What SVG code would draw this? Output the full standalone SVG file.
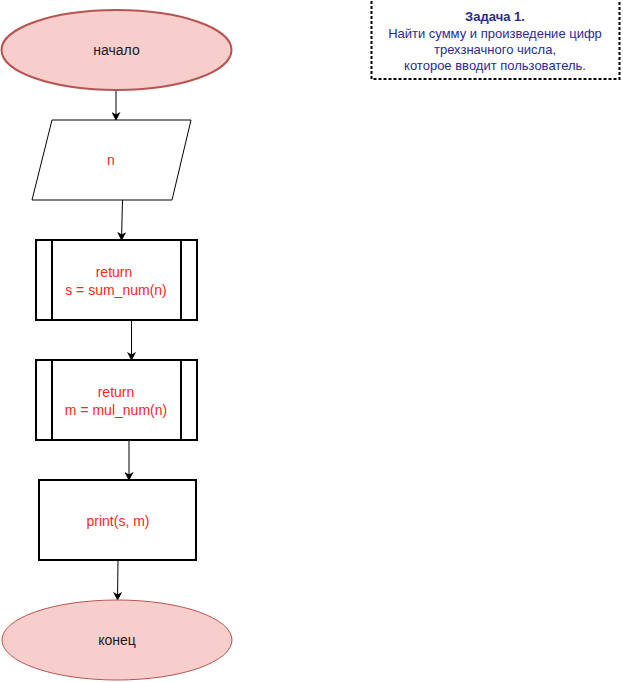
<svg xmlns="http://www.w3.org/2000/svg" width="623" height="682" viewBox="0 0 623 682">
  <style>
    text { font-family: "Liberation Sans", Arial, sans-serif; font-size: 14px; text-anchor: middle; dominant-baseline: central; }
    .term { fill: #f8cecc; stroke: #b85450; }
    .box { fill: #ffffff; stroke: #000000; stroke-width: 2; }
    .shape { fill: #ffffff; stroke: #000000; stroke-width: 1; }
    .dark { fill: #1a1a1a; }
    .red { fill: #ff2424; }
    .note { fill: #2b2b8f; font-size: 13px; }
    .edge { fill: none; stroke: #000000; stroke-width: 1; marker-end: url(#arrow); }
  </style>
  <defs>
    <marker id="arrow" viewBox="0 0 10 10" refX="9" refY="5" markerWidth="9" markerHeight="9" markerUnits="userSpaceOnUse" orient="auto">
      <path d="M0,0 L10,5 L0,10 L3,5 Z" fill="#000000"/>
    </marker>
  </defs>
  <rect width="623" height="682" fill="#ffffff"/>

  <g id="connectors">
    <path class="edge" d="M116,90 L116,120"/>
    <path class="edge" d="M122.5,200 L121.5,240"/>
    <path class="edge" d="M131.5,321 L131.5,360"/>
    <path class="edge" d="M129,441 L129,480"/>
    <path class="edge" d="M118,560 L117.5,600"/>
  </g>

  <g id="start">
    <ellipse class="term" cx="116.5" cy="50" rx="115" ry="40" stroke-width="2"/>
    <text class="dark" x="116.5" y="50">начало</text>
  </g>

  <g id="input">
    <polygon class="shape" points="52,120 191,120 172,200 32,200"/>
    <text class="red" x="111" y="160">n</text>
  </g>

  <g id="sum">
    <rect class="box" x="36" y="240" width="161" height="80"/>
    <line class="box" x1="52" y1="240" x2="52" y2="320"/>
    <line class="box" x1="181" y1="240" x2="181" y2="320"/>
    <text class="red" x="114" y="272">return</text>
    <text class="red" x="116" y="290">s = sum_num(n)</text>
  </g>

  <g id="mul">
    <rect class="box" x="36" y="360" width="161" height="80"/>
    <line class="box" x1="52" y1="360" x2="52" y2="440"/>
    <line class="box" x1="181" y1="360" x2="181" y2="440"/>
    <text class="red" x="116" y="392">return</text>
    <text class="red" x="116" y="410">m = mul_num(n)</text>
  </g>

  <g id="output">
    <rect class="box" x="39" y="480" width="157" height="80"/>
    <text class="red" x="118" y="521">print(s, m)</text>
  </g>

  <g id="end">
    <ellipse class="term" cx="117" cy="640" rx="115" ry="40" stroke-width="1"/>
    <text class="dark" x="117" y="640">конец</text>
  </g>

  <g id="task">
    <rect x="371.5" y="-20" width="248" height="99" fill="#ffffff" stroke="#000000" stroke-width="2" stroke-dasharray="3,2"/>
    <text class="note" x="495" y="16" font-weight="bold">Задача 1.</text>
    <text class="note" x="495" y="33">Найти сумму и произведение цифр</text>
    <text class="note" x="495" y="49">трехзначного числа,</text>
    <text class="note" x="495" y="65">которое вводит пользователь.</text>
  </g>
</svg>
